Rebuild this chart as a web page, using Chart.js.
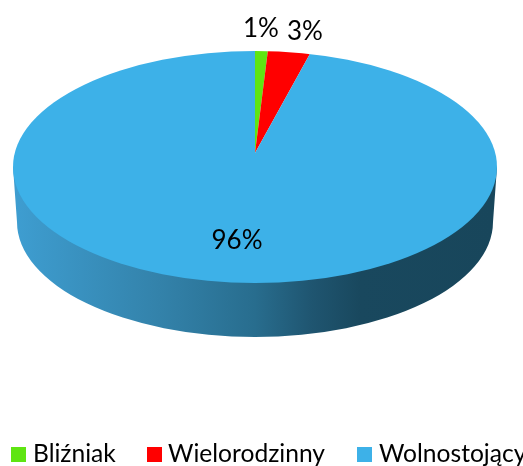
<!DOCTYPE html>
<html>
<head>
<meta charset="utf-8">
<script src="https://cdn.jsdelivr.net/npm/chart.js@4"></script>
<style>
  html, body { margin: 0; padding: 0; background: #fff; overflow: hidden; }
  canvas { display: block; }
</style>
</head>
<body>
<canvas id="graph" width="523" height="466"></canvas>
<script>
'use strict';

const categories = ['Bliźniak', 'Wielorodzinny', 'Wolnostojący'];
const shares = [1, 3.3, 95.7];
const sliceColors = ['#5fe512', '#ff0000', '#3db1e8'];

// ellipse of the disc top and of the bottom rim
const top3d = { x: 255, y: 167, rx: 242, ry: 116 };
const rim3d = { x: 255, y: 222, rx: 238, ry: 115 };
// perspective moves the apex above the ellipse centre
const apex = { x: 255, y: 153, rx: 300, ry: 150 };

const labelSpots = [{ x: 261, y: 37 }, { x: 305, y: 40 }, { x: 237, y: 249 }];
const legendSpots = [{ box: 11, text: 33 }, { box: 147, text: 168 }, { box: 357, text: 379 }];
const fontName = 'Lato, "Open Sans", sans-serif';

const discPlugin = {
  id: 'disc',
  beforeDatasetsDraw(chart) {
    const ctx = chart.ctx;
    const arc = chart.getDatasetMeta(0).data[0];

    // side wall
    const wall = ctx.createLinearGradient(17, 0, 493, 0);
    wall.addColorStop(0, '#3e9dd0');
    wall.addColorStop(0.3, '#3382aa');
    wall.addColorStop(0.5, '#286d8e');
    wall.addColorStop(0.62, '#1f5570');
    wall.addColorStop(0.72, '#19485e');
    wall.addColorStop(1, '#18465b');
    ctx.save();
    ctx.fillStyle = wall;
    ctx.beginPath();
    ctx.moveTo(top3d.x - top3d.rx, top3d.y);
    ctx.lineTo(rim3d.x - rim3d.rx, rim3d.y);
    ctx.ellipse(rim3d.x, rim3d.y, rim3d.rx, rim3d.ry, 0, Math.PI, 0, true);
    ctx.lineTo(top3d.x + top3d.rx, top3d.y);
    ctx.closePath();
    ctx.fill();
    ctx.restore();

    // squash the pie on to the disc top
    ctx.save();
    ctx.beginPath();
    ctx.ellipse(top3d.x, top3d.y, top3d.rx, top3d.ry, 0, 0, Math.PI * 2);
    ctx.clip();
    ctx.translate(apex.x, apex.y);
    ctx.scale(apex.rx / arc.outerRadius, apex.ry / arc.outerRadius);
    ctx.translate(-arc.x, -arc.y);
  },
  afterDatasetsDraw(chart) {
    chart.ctx.restore();
  },
  afterDraw(chart) {
    const ctx = chart.ctx;
    ctx.save();
    ctx.fillStyle = '#000';
    ctx.textBaseline = 'alphabetic';

    ctx.font = '26px ' + fontName;
    ctx.textAlign = 'center';
    shares.forEach((v, i) => {
      ctx.fillText(Math.round(v) + '%', labelSpots[i].x, labelSpots[i].y);
    });

    ctx.font = '24.6px ' + fontName;
    ctx.textAlign = 'left';
    categories.forEach((name, i) => {
      ctx.fillStyle = sliceColors[i];
      ctx.fillRect(legendSpots[i].box, 447, 15, 15);
      ctx.fillStyle = '#000';
      ctx.fillText(name, legendSpots[i].text, 462);
    });
    ctx.restore();
  }
};

new Chart(document.getElementById('graph'), {
  type: 'pie',
  data: {
    labels: categories,
    datasets: [{
      data: shares,
      backgroundColor: sliceColors,
      borderWidth: 0,
      clip: false
    }]
  },
  options: {
    responsive: false,
    animation: false,
    plugins: {
      legend: { display: false },
      tooltip: { enabled: false }
    }
  },
  plugins: [discPlugin]
});
</script>
</body>
</html>
